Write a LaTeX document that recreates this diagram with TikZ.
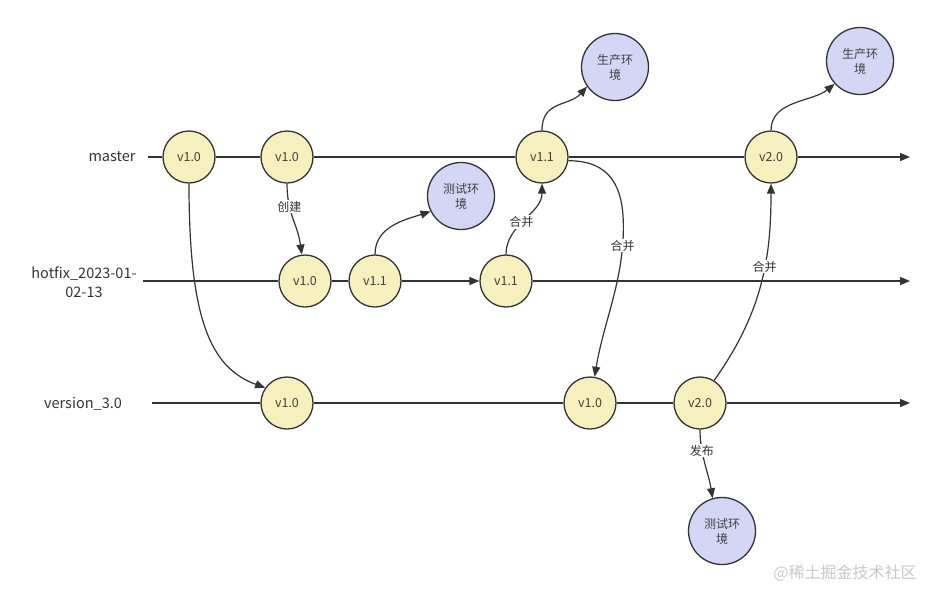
\documentclass[tikz,border=0pt]{standalone}
\usepackage{fontspec}
\setmainfont{Noto Sans CJK SC}
\usepackage{tikz}
\usetikzlibrary{arrows.meta,positioning,calc}
\definecolor{cVer}{RGB}{246,239,190}
\definecolor{cEnv}{RGB}{212,214,246}
\definecolor{cLine}{RGB}{51,51,51}
\definecolor{cMark}{RGB}{200,200,200}

\begin{document}
\begin{tikzpicture}[x=1pt,y=-1pt,>={Triangle[length=10pt,width=8pt]},
  line width=1.2pt,draw=cLine,
  ver/.style={circle,draw=cLine,fill=cVer,line width=1.3pt,minimum size=52pt,inner sep=0pt,font=\fontsize{12.5}{14}\selectfont,text=black!75},
  env/.style={circle,draw=cLine,fill=cEnv,line width=1.3pt,minimum size=67pt,inner sep=0pt,align=center,font=\fontsize{12}{15}\selectfont,text=black!75},
  branch/.style={font=\fontsize{14.5}{19}\selectfont,text=black!80,align=center},
  lab/.style={fill=white,inner sep=1pt,font=\fontsize{12}{14}\selectfont,text=black!80}]
  \useasboundingbox (0,0) rectangle (932,590);
  % branch names
  \node[branch] (nmaster) at (112,157) {master};
  \node[branch] (nhotfix) at (84,282) {hotfix\_2023-01-\\02-13};
  \node[branch] (nversion) at (83,404) {version\_3.0};
  % master
  \node[ver] (m1) at (189,157) {v1.0};
  \node[ver] (m2) at (287,157) {v1.0};
  \node[ver] (m3) at (542,157) {v1.1};
  \node[ver] (m4) at (771,157) {v2.0};
  \node[env] (prod1) at (615,67) {生产环\\境};
  \node[env] (prod2) at (860,61) {生产环\\境};
  % hotfix
  \node[ver] (h1) at (305,281) {v1.0};
  \node[ver] (h2) at (375,281) {v1.1};
  \node[ver] (h3) at (506,281) {v1.1};
  \node[env] (test1) at (461,196) {测试环\\境};
  % version
  \node[ver] (v1) at (287,403) {v1.0};
  \node[ver] (v2) at (590,403) {v1.0};
  \node[ver] (v3) at (700,403) {v2.0};
  \node[env] (test2) at (722,531) {测试环\\境};
  \coordinate (ms) at (148,157);
  \coordinate (me) at (910,157);
  \coordinate (hs) at (143,281);
  \coordinate (he) at (910,281);
  \coordinate (vs) at (152,403);
  \coordinate (ve) at (910,403);
  % lanes
  \draw (ms) -- (m1) -- (m2) -- (m3) -- (m4);
  \draw[->] (m4) -- (me);
  \draw (hs) -- (h1) -- (h2);
  \draw[->] (h2) -- (h3);
  \draw[->] (h3) -- (he);
  \draw (vs) -- (v1) -- (v2) -- (v3);
  \draw[->] (v3) -- (ve);
  % branching and merging
  \draw[->] (m1.south) .. controls +(0,135) and +(-55,-20) .. (v1.145);
  \draw[->] (m2.south) .. controls +(0,30) and +(-4,-30) .. (h1.97) node[lab,pos=0.3] {创建};
  \draw[->] (h2.north) .. controls +(0,-28) and +(-25,8) .. (test1.207);
  \draw[->] (h3.north) .. controls +(0,-30) and +(0,30) .. (m3.south) node[lab,pos=0.45] {合并};
  \draw[->] (m3.north) .. controls +(0,-30) and +(-18,20) .. (prod1.215);
  \draw[->] (m3.-8) .. controls +(42,0) and +(0,-40) .. ++(55,66)
    .. controls +(0,55) and +(9,-55) .. (v2.80) node[lab,pos=0.12] {合并};
  \draw[->] (v3.58) .. controls +(50,-70) and +(0,70) .. (m4.south) node[lab,pos=0.58] {合并};
  \draw[->] (m4.north) .. controls +(0,-30) and +(-22,18) .. (prod2.222);
  \draw[->] (v3.south) .. controls +(0,25) and +(-4,-25) .. (test2.106) node[lab,pos=0.3] {发布};
  % watermark
  \node[font=\fontsize{16}{18}\selectfont,text=cMark] (mark) at (845,573) {@稀土掘金技术社区};
\end{tikzpicture}
\end{document}
